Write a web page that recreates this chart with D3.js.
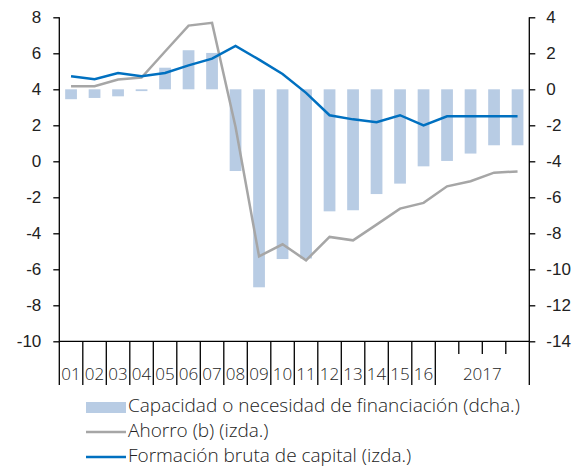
<!DOCTYPE html>
<html>
<head>
<meta charset="utf-8">
<script src="https://cdn.jsdelivr.net/npm/d3@7"></script>
<style>
  body { margin: 0; background: #fff; }
  svg { display: block; font-family: "Open Sans", sans-serif; font-weight: 300; }
  .axis text { fill: #222; }
</style>
</head>
<body>
<div id="chart"></div>
<script>
// categories: 2001..2016 annual, then the four quarters of 2017
var categories = ["01", "02", "03", "04", "05", "06", "07", "08", "09", "10",
    "11", "12", "13", "14", "15", "16", "17-I", "17-II", "17-III", "17-IV"];
var yearLabels = ["01", "02", "03", "04", "05", "06", "07", "08", "09", "10",
    "11", "12", "13", "14", "15", "16", "2017"];

// capacidad o necesidad de financiacion (right axis)
var capacidad = [-0.55, -0.48, -0.39, -0.1, 1.2, 2.17, 2.02, -4.54, -11.0, -9.43,
    -9.4, -6.78, -6.72, -5.82, -5.24, -4.28, -3.98, -3.57, -3.11, -3.11];
// ahorro (left axis)
var ahorro = [4.17, 4.17, 4.54, 4.65, 6.1, 7.54, 7.69, 1.9, -5.28, -4.61,
    -5.5, -4.2, -4.39, -3.52, -2.63, -2.31, -1.39, -1.11, -0.63, -0.56];
// formacion bruta de capital (left axis)
var formacion = [4.72, 4.56, 4.91, 4.72, 4.91, 5.33, 5.70, 6.41, 5.65, 4.85,
    3.8, 2.56, 2.33, 2.17, 2.56, 2.0, 2.5, 2.5, 2.5, 2.5];

var leftTicks = [-10, -8, -6, -4, -2, 0, 2, 4, 6, 8];
var rightTicks = [-14, -12, -10, -8, -6, -4, -2, 0, 2, 4];

var width = 577, height = 467;
var x0 = 59.3, x1 = 529.3, yTop = 17.3, yBot = 341.3;

var svg = d3.select("#chart").append("svg")
    .attr("width", width)
    .attr("height", height);

var x = d3.scaleBand()
    .domain(categories)
    .range([x0, x1])
    .paddingInner(0.5)
    .paddingOuter(0.25);
var step = x.step();
var center = function (d) { return x(d) + x.bandwidth() / 2; };
var slotLeft = function (d) { return x(d) - step * 0.25; };

var yL = d3.scaleLinear().domain([-10, 8]).range([yBot, yTop]);
var yR = d3.scaleLinear().domain([-14, 4]).range([yBot, yTop]);

// bars
svg.append("g").selectAll("rect")
    .data(categories)
    .enter()
    .append("rect")
    .attr("x", function (d) { return x(d); })
    .attr("width", x.bandwidth())
    .attr("y", function (d, i) { return Math.min(yR(0), yR(capacidad[i])); })
    .attr("height", function (d, i) { return Math.abs(yR(capacidad[i]) - yR(0)); })
    .attr("fill", "#b8cce4");

var line = d3.line()
    .x(function (d, i) { return center(categories[i]); })
    .y(function (d) { return yL(d); });

svg.append("path")
    .datum(ahorro)
    .attr("d", line)
    .attr("fill", "none")
    .attr("stroke", "#a6a6a6")
    .attr("stroke-width", 2.5);

svg.append("path")
    .datum(formacion)
    .attr("d", line)
    .attr("fill", "none")
    .attr("stroke", "#0070c0")
    .attr("stroke-width", 2.5);

// y axes
var gl = svg.append("g")
    .attr("class", "axis")
    .attr("transform", "translate(" + x0 + ",0)")
    .call(d3.axisLeft(yL).tickValues(leftTicks).tickSize(6).tickPadding(12));
var gr = svg.append("g")
    .attr("class", "axis")
    .attr("transform", "translate(" + x1 + ",0)")
    .call(d3.axisRight(yR).tickValues(rightTicks).tickSize(6).tickPadding(11));
[gl, gr].forEach(function (g) {
    g.selectAll("text")
        .style("font-size", "17px")
        .style("font-family", "inherit")
        .text(function (d) { return String(d); }); // plain hyphen like the source
    g.select(".domain").attr("stroke", "#000").attr("stroke-width", 1.3)
        .attr("d", "M0," + yTop + "V" + yBot);
    g.selectAll(".tick line").attr("stroke", "#000").attr("stroke-width", 1.3);
});

// x axis
var gx = svg.append("g").attr("class", "axis");
gx.append("line")
    .attr("x1", x0).attr("x2", x1)
    .attr("y1", yBot).attr("y2", yBot)
    .attr("stroke", "#000").attr("stroke-width", 1.3);

// long ticks between years, short ticks between the 2017 quarters
gx.selectAll(".xt")
    .data(categories)
    .enter()
    .append("line")
    .attr("class", "xt")
    .attr("x1", slotLeft).attr("x2", slotLeft)
    .attr("y1", yBot)
    .attr("y2", function (d, i) { return i <= 16 ? 385 : 354; })
    .attr("stroke", "#000").attr("stroke-width", 1.3);
gx.append("line")
    .attr("x1", x1).attr("x2", x1)
    .attr("y1", yBot).attr("y2", 385)
    .attr("stroke", "#000").attr("stroke-width", 1.3);

gx.selectAll(".xl")
    .data(yearLabels)
    .enter()
    .append("text")
    .attr("class", "xl")
    .attr("x", function (d, i) {
        if (i < 16) return center(categories[i]);
        return (slotLeft(categories[16]) + x1) / 2;
    })
    .attr("y", 380)
    .attr("text-anchor", "middle")
    .style("font-size", "17px")
    .text(function (d) { return d; });

// legend
var legend = svg.append("g").attr("class", "axis");
legend.append("rect")
    .attr("x", 86).attr("y", 402)
    .attr("width", 40).attr("height", 11)
    .attr("fill", "#b8cce4");
legend.append("line")
    .attr("x1", 86).attr("x2", 126).attr("y1", 432).attr("y2", 432)
    .attr("stroke", "#a6a6a6").attr("stroke-width", 2.5);
legend.append("line")
    .attr("x1", 86).attr("x2", 126).attr("y1", 457).attr("y2", 457)
    .attr("stroke", "#0070c0").attr("stroke-width", 2.5);

var legendText = ["Capacidad o necesidad de financiación (dcha.)", "Ahorro (b) (izda.)", "Formación bruta de capital (izda.)"];
legend.selectAll("text")
    .data(legendText)
    .enter()
    .append("text")
    .attr("x", 128)
    .attr("y", function (d, i) { return 412 + i * 24.8; })
    .style("font-size", "19px")
    .text(function (d) { return d; });
</script>
</body>
</html>
